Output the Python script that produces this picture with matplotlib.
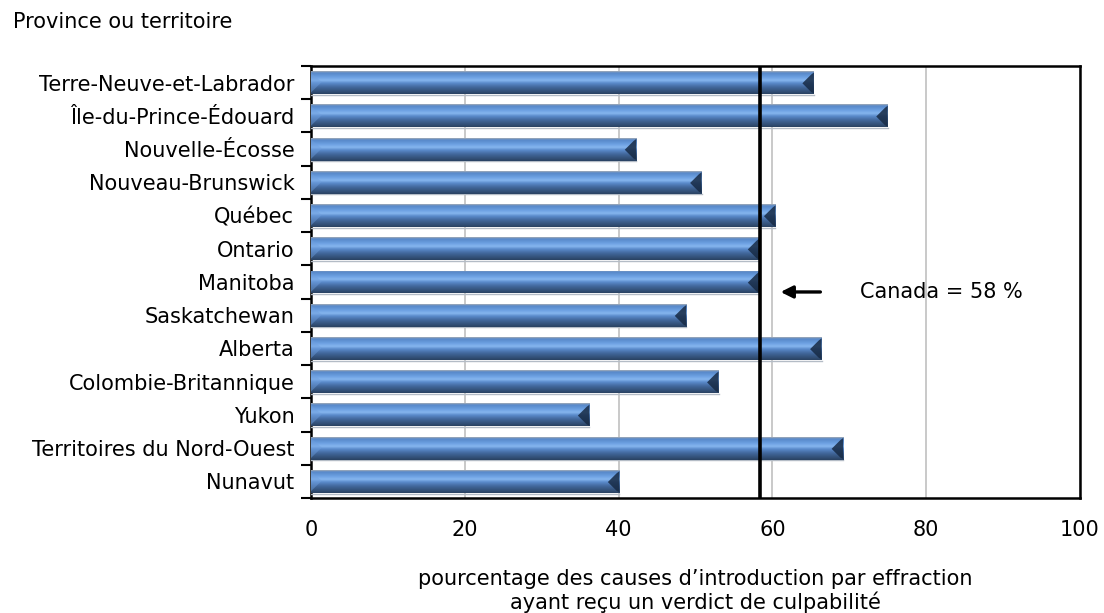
import numpy as np
import matplotlib
matplotlib.use("Agg")
import matplotlib.pyplot as plt
from matplotlib.colors import LinearSegmentedColormap
from matplotlib.patches import Polygon

plt.rcParams['font.family'] = ['DejaVu Sans']

provinces = [
    "Terre-Neuve-et-Labrador",
    "Île-du-Prince-Édouard",
    "Nouvelle-Écosse",
    "Nouveau-Brunswick",
    "Québec",
    "Ontario",
    "Manitoba",
    "Saskatchewan",
    "Alberta",
    "Colombie-Britannique",
    "Yukon",
    "Territoires du Nord-Ouest",
    "Nunavut",
]
pct_guilty = [65.4, 75.0, 42.3, 50.8, 60.4, 58.3, 58.3, 48.8, 66.4, 53.0, 36.2, 69.2, 40.1]
canada_pct = 58.4
canada_label = "Canada = 58 %"
x_ticks = [0, 20, 40, 60, 80, 100]
x_title = "pourcentage des causes d\u2019introduction par effraction\nayant reçu un verdict de culpabilité"
y_title = "Province ou territoire"

FS = 15
W, H = 1104, 613
fig = plt.figure(figsize=(W / 100, H / 100), dpi=100)
ax = fig.add_axes([311 / W, 1 - 498 / H, (1080 - 311) / W, (498 - 66) / H])

n = len(provinces)
ypos = np.arange(n)
bar_h = 0.69

# vertical shading for the bevelled bars (top row first)
shade = LinearSegmentedColormap.from_list(
    "bevel",
    [(0.00, "#a3acb6"), (0.07, "#5787c8"), (0.25, "#6a9ee0"), (0.40, "#86b6ef"),
     (0.52, "#5b8bcc"), (0.70, "#42689c"), (0.88, "#34527a"), (1.00, "#2a4262")],
)
grad = np.linspace(0, 1, 64).reshape(-1, 1)

bars = ax.barh(ypos, pct_guilty, height=bar_h, color="#4f81bd", edgecolor="none", zorder=3)
for b, v, y in zip(bars, pct_guilty, ypos):
    im = ax.imshow(grad, cmap=shade, aspect="auto", origin="upper",
                   extent=(0, v, y + bar_h / 2, y - bar_h / 2), zorder=3.1,
                   interpolation="bilinear")
    im.set_clip_path(b)
    t = y - bar_h / 2
    btm = y + bar_h / 2
    # dark chevron at the right end
    ax.add_patch(Polygon([(v, t + 0.04), (v - 0.35, t + 0.10), (v - 1.5, y + 0.02),
                          (v - 0.35, btm - 0.06), (v, btm - 0.02)],
                         closed=True, facecolor="#172a44", alpha=0.85,
                         edgecolor="none", zorder=3.2))
    # light chevron at the left end
    ax.add_patch(Polygon([(0, t + 0.05), (1.4, y - 0.02), (0, btm - 0.05)],
                         closed=True, facecolor="#6f9fde", alpha=0.45,
                         edgecolor="none", zorder=3.2))
    ax.plot([0, v], [btm + 0.02, btm + 0.02], color="#b4bcc6", lw=1.0, zorder=3.0)

ax.set_xlim(0, 100)
ax.set_ylim(n - 0.5, -0.5)

ax.set_xticks(x_ticks)
ax.set_xticklabels([str(t) for t in x_ticks], fontsize=FS)
ax.tick_params(axis="x", length=0, pad=16)
ax.grid(axis="x", color="#c0c0c0", lw=1.2, zorder=0)

ax.set_yticks(ypos)
ax.set_yticklabels(provinces, fontsize=FS)
ax.tick_params(axis="y", which="major", length=0, pad=12)
ax.set_yticks(np.arange(-0.5, n, 1.0), minor=True)
ax.tick_params(axis="y", which="minor", length=7, width=1.5, direction="out")

for s in ax.spines.values():
    s.set_linewidth(1.8)
    s.set_color("black")

ax.axvline(canada_pct, color="black", lw=2.6, zorder=5)
ax.annotate("", xy=(60.7, 6.3), xytext=(66.6, 6.3),
            arrowprops=dict(arrowstyle="-|>", color="black", lw=2.4, mutation_scale=18),
            zorder=6)
ax.text(71.4, 6.3, canada_label, fontsize=FS, va="center", ha="left", zorder=6)

fig.text(695.5 / W, 1 - 591 / H, x_title, fontsize=FS, va="center", ha="center",
         multialignment="center", linespacing=1.15)
fig.text(13 / W, 1 - 22 / H, y_title, fontsize=FS, va="center", ha="left")

fig.savefig("out.png", dpi=100)
